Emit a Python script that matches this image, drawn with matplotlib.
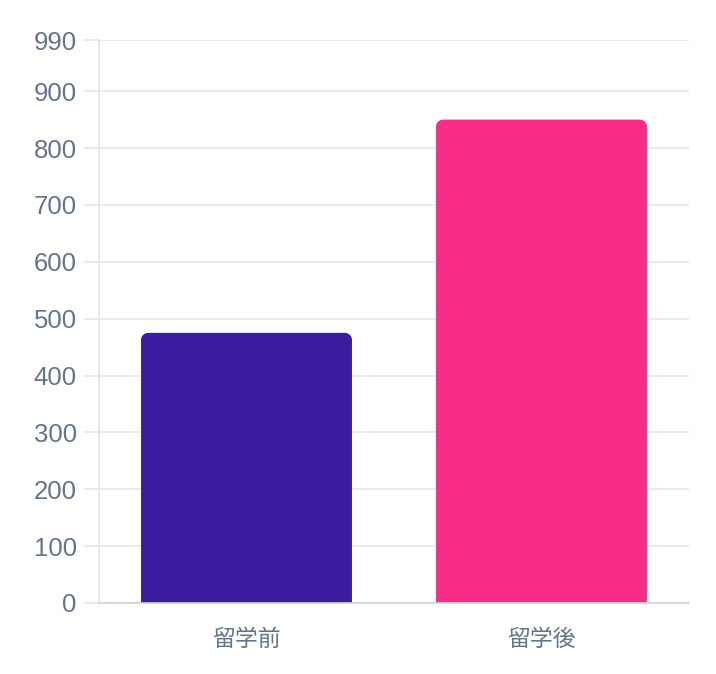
import matplotlib
matplotlib.use("Agg")
import matplotlib.pyplot as plt
from matplotlib.path import Path
from matplotlib.patches import PathPatch

plt.rcParams['font.family'] = ['Noto Sans CJK JP', 'DejaVu Sans']

categories = ['留学前', '留学後']
values = [475, 850]
colors = ['#3a1c9e', '#f72d87']
y_ticks = [0, 100, 200, 300, 400, 500, 600, 700, 800, 900, 990]

fig = plt.figure(figsize=(7.16, 6.74), dpi=100)
ax = fig.add_axes([99/716, 1-603/674, 590/716, 563/674])
ax.set_xlim(-0.5, 1.5)
ax.set_ylim(0, 990)

width = 0.715
bars = ax.bar(range(len(categories)), values, width=width, color=colors, zorder=3)

# rounded top corners
fig.canvas.draw()
r_px = 7
inv = ax.transData.inverted()
x0d, y0d = inv.transform((0, 0))
x1d, y1d = inv.transform((r_px, r_px))
rx, ry = x1d - x0d, y1d - y0d
for b, c in zip(bars, colors):
    x, w, h = b.get_x(), b.get_width(), b.get_height()
    b.set_visible(False)
    k = 0.55
    verts = [(x, 0), (x, h - ry), (x, h - ry + k*ry), (x + rx - k*rx, h), (x + rx, h),
             (x + w - rx, h), (x + w - rx + k*rx, h), (x + w, h - ry + k*ry), (x + w, h - ry),
             (x + w, 0), (x, 0)]
    codes = [Path.MOVETO, Path.LINETO, Path.CURVE4, Path.CURVE4, Path.CURVE4,
             Path.LINETO, Path.CURVE4, Path.CURVE4, Path.CURVE4, Path.LINETO, Path.CLOSEPOLY]
    ax.add_patch(PathPatch(Path(verts, codes), facecolor=c, edgecolor='none', zorder=3))

ax.set_yticks(y_ticks)
ax.set_yticklabels([str(t) for t in y_ticks], family=['Liberation Sans', 'DejaVu Sans'])
ax.set_xticks(range(len(categories)))
ax.set_xticklabels(categories)

ax.grid(axis='y', color='#e2e8f0', linewidth=1.2, zorder=0)
ax.tick_params(axis='y', length=11, width=1.2, color='#e2e8f0', labelsize=18.5,
               labelcolor='#64748b', pad=5)
ax.tick_params(axis='x', length=0, labelsize=16.5, labelcolor='#64748b', pad=18)

for s in ['top', 'right']:
    ax.spines[s].set_visible(False)
ax.spines['left'].set_color('#e5e7eb')
ax.spines['left'].set_linewidth(1.5)
ax.spines['bottom'].set_color('#cbd5e1')
ax.spines['bottom'].set_linewidth(1.2)
ax.spines['bottom'].set_zorder(4)

fig.savefig('out.png', dpi=100)
